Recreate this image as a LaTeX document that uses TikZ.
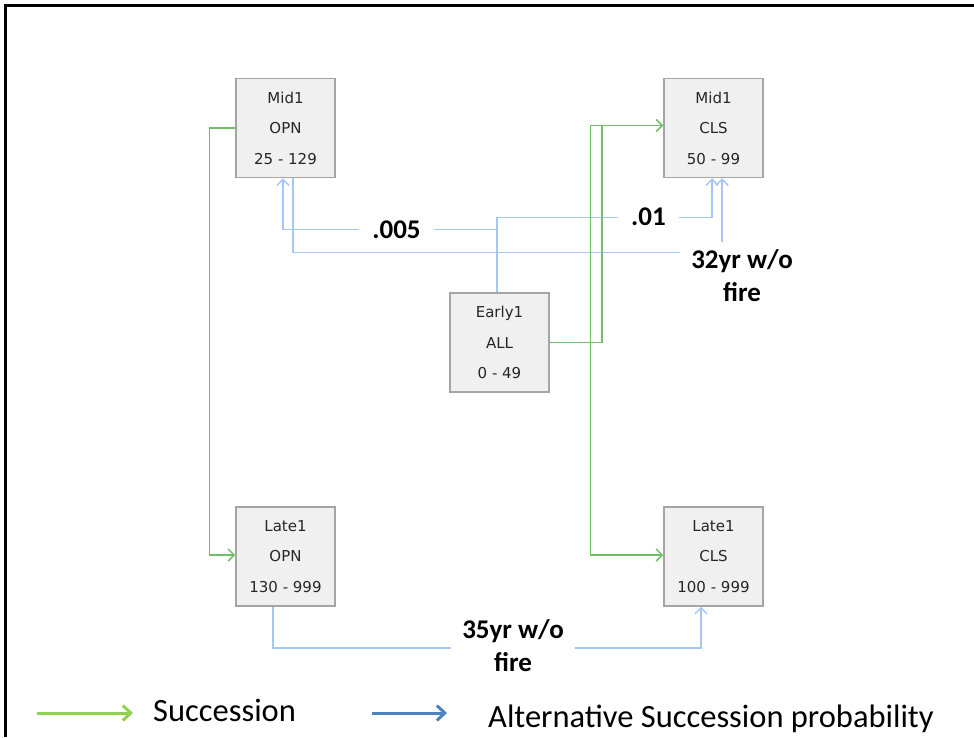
\documentclass[tikz,border=0pt]{standalone}
\usepackage{fontspec}
\setmainfont{Carlito}
\newfontfamily\statefont{DejaVu Sans}
\usetikzlibrary{arrows.meta}
\definecolor{succgreen}{RGB}{112,192,104}
\definecolor{altblue}{RGB}{164,198,248}
\definecolor{legendgreen}{RGB}{146,208,80}
\definecolor{legendblue}{RGB}{79,129,189}
\definecolor{boxfill}{RGB}{240,240,240}
\definecolor{boxline}{RGB}{165,165,165}
\tikzset{
	state/.style={draw=boxline, fill=boxfill, line width=1.5pt, minimum width=99pt, minimum height=99pt, align=center, inner sep=0pt, font=\statefont\fontsize{15}{30.5}\selectfont, text=black!85},
	succ/.style={draw=succgreen, line width=1.5pt, -{Straight Barb[length=6pt,width=12pt]}},
	alt/.style={draw=altblue, line width=1.5pt, -{Straight Barb[length=6pt,width=12pt]}},
	prob/.style={fill=white, font=\bfseries\fontsize{27}{33}\selectfont, align=center, inner xsep=13pt, inner ysep=2pt},
	legsucc/.style={draw=legendgreen, line width=3pt, -{Straight Barb[length=8pt,width=15pt]}},
	legalt/.style={draw=legendblue, line width=3pt, -{Straight Barb[length=8pt,width=15pt]}},
	legend/.style={font=\fontsize{32.5}{38}\selectfont, inner sep=0pt},
}
\begin{document}
\begin{tikzpicture}[x=1pt,y=-1pt]
	\useasboundingbox (0,0) rectangle (974,737);
	\draw[line width=2.5pt] (5.5,737) -- (5.5,5.5) -- (974,5.5);
	
	\node[state] (mido) at (285.5,128) {Mid1\\OPN\\25 - 129};
	\node[state] (midc) at (713.5,128) {Mid1\\CLS\\50 - 99};
	
	\node[state] (early) at (499.5,342.5) {Early1\\ALL\\0 - 49};
	
	\node[state] (lateo) at (285.5,556.5) {Late1\\OPN\\130 - 999};
	\node[state] (latec) at (713.5,556.5) {Late1\\CLS\\100 - 999};
	
	\draw[alt] ([xshift=-2.5pt]early.north) -- ++(0,-63) -| ([xshift=-2.5pt]mido.south);
	\draw[alt] ([xshift=-2.5pt]early.north) -- ++(0,-75) -| ([xshift=-1.5pt]midc.south);
	\draw[alt] ([xshift=7.5pt]mido.south) -- ++(0,74) -| ([xshift=8.5pt]midc.south);
	\draw[alt] ([xshift=-12.5pt]lateo.south) -- ++(0,41) -| ([xshift=-12.5pt]latec.south);
	
	\node[prob] (p005) at (396.5,230) {.005};
	\node[prob] (p01) at (648.5,217) {.01};
	\node[prob, inner xsep=11pt, inner ysep=8pt] (fire32) at (742,276) {32yr w/o\\fire};
	\node[prob, inner xsep=11pt] (fire35) at (513,646) {35yr w/o\\fire};
	
	\draw[succ] (mido.west) -- ++(-26,0) |- ([yshift=1.5pt]lateo.west);
	\draw[succ] (early.east) -- ++(52,0) |- ([yshift=2.5pt]midc.west);
	\draw[succ] ([yshift=2.5pt]midc.west) -- ++(-73,0) |- ([yshift=1.5pt]latec.west);
	
	\coordinate (sucs) at (37,713);
	\coordinate (suce) at (133,713);
	\draw[legsucc] (sucs) -- (suce);
	\node[legend, anchor=base west] (suctxt) at (153,721) {Succession};
	\coordinate (alts) at (372,713);
	\coordinate (alte) at (447,713);
	\draw[legalt] (alts) -- (alte);
	\node[legend, anchor=base west] (alttxt) at (488,727) {Alternative Succession probability};
\end{tikzpicture}
\end{document}
